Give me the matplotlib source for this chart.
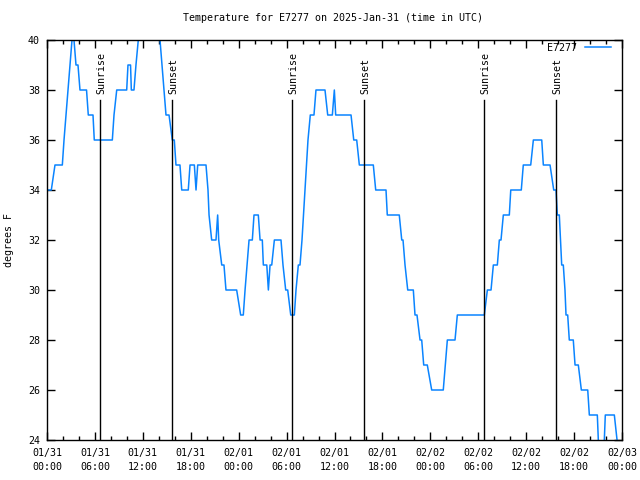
import matplotlib
matplotlib.use("Agg")
import matplotlib.pyplot as plt
from matplotlib.ticker import MultipleLocator

# ---- data (time in hours since 2025-01-31 00:00 UTC, temperature in degrees F)
hours = [0.00, 0.54, 1.00, 1.92, 2.13, 2.38, 2.63, 2.88, 3.13, 3.38, 3.63, 3.88,
         4.13, 4.95, 5.17, 5.76, 5.92, 8.18, 8.39, 8.73, 9.98, 10.14, 10.46, 10.56,
         10.89, 11.14, 11.43, 11.65, 13.90, 14.15, 14.40, 14.65, 14.90, 15.28, 15.69,
         15.94, 16.15, 16.65, 16.87, 17.69, 17.91, 18.45, 18.66, 18.87, 19.91, 20.16,
         20.29, 20.62, 21.16, 21.37, 21.50, 21.88, 22.16, 22.41, 23.75, 24.25, 24.58,
         24.80, 25.05, 25.30, 25.71, 25.92, 26.46, 26.68, 26.96, 27.09, 27.52, 27.72,
         27.93, 28.14, 28.47, 29.30, 29.55, 29.89, 30.14, 30.52, 30.97, 31.18, 31.47,
         31.68, 31.93, 32.12, 32.31, 32.49, 32.68, 32.97, 33.43, 33.68, 34.81, 35.15,
         35.73, 35.98, 36.15, 38.07, 38.41, 38.78, 39.11, 40.86, 41.16, 42.45, 42.61,
         44.11, 44.42, 44.58, 44.83, 45.17, 45.87, 46.08, 46.33, 46.71, 46.92, 47.17,
         47.62, 48.17, 49.62, 50.13, 51.09, 51.38, 54.76, 55.14, 55.60, 55.89, 56.39,
         56.64, 56.85, 57.14, 57.89, 58.07, 59.39, 59.64, 60.57, 60.90, 61.95, 62.15,
         62.99, 63.45, 63.74, 63.90, 64.15, 64.30, 64.45, 64.65, 64.86, 64.99, 65.20,
         65.40, 65.90, 66.12, 66.53, 66.91, 67.71, 67.91, 68.91, 69.16, 69.66, 69.91,
         71.04, 71.38, 71.55]
temps = [34, 34, 35, 35, 36, 37, 38, 39, 40, 40, 39, 39,
         38, 38, 37, 37, 36, 36, 37, 38, 38, 39, 39, 38,
         38, 39, 40, 41, 41, 40, 39, 38, 37, 37, 36,
         36, 35, 35, 34, 34, 35, 35, 34, 35, 35, 34,
         33, 32, 32, 33, 32, 31, 31, 30, 30, 29, 29,
         30, 31, 32, 32, 33, 33, 32, 32, 31, 31, 30,
         31, 31, 32, 32, 31, 30, 30, 29, 29, 30, 31,
         31, 32, 33, 34, 35, 36, 37, 37, 38, 38, 37,
         37, 38, 37, 37, 36, 36, 35, 35, 34, 34, 33,
         33, 32, 32, 31, 30, 30, 29, 29, 28, 28, 27,
         27, 26, 26, 28, 28, 29, 29, 30, 30, 31, 31,
         32, 32, 33, 33, 34, 34, 35, 35, 36, 36, 35,
         35, 34, 34, 33, 33, 32, 31, 31, 30, 29, 29,
         28, 28, 27, 27, 26, 26, 25, 25, 23, 23, 25,
         25, 24, 23]

sunrise_hours = [6.65, 30.65, 54.70]
sunset_hours = [15.65, 39.70, 63.74]

xtick_hours = [0, 6, 12, 18, 24, 30, 36, 42, 48, 54, 60, 66, 72]
xtick_labels = ["01/31\n00:00", "01/31\n06:00", "01/31\n12:00", "01/31\n18:00",
                "02/01\n00:00", "02/01\n06:00", "02/01\n12:00", "02/01\n18:00",
                "02/02\n00:00", "02/02\n06:00", "02/02\n12:00", "02/02\n18:00",
                "02/03\n00:00"]
yticks = [24, 26, 28, 30, 32, 34, 36, 38, 40]

station = "E7277"
title = "Temperature for E7277 on 2025-Jan-31 (time in UTC)"

# ---- figure
FONT = "DejaVu Sans Mono"
FS = 7.2
plt.rcParams["font.family"] = [FONT]

fig = plt.figure(figsize=(6.4, 4.8), dpi=100)
ax = fig.add_axes([47 / 640, 40 / 480, 575 / 640, 400 / 480])

ax.plot(hours, temps, color="#0a84ff", lw=1.1, label=station, zorder=2)

for h in sunrise_hours:
    ax.plot([h, h], [24, 37.6], color="black", lw=1.0, zorder=3)
    ax.text(h + 0.15, 37.85, "Sunrise", rotation=90, ha="center", va="bottom",
            fontsize=FS, family=FONT)
for h in sunset_hours:
    ax.plot([h, h], [24, 37.6], color="black", lw=1.0, zorder=3)
    ax.text(h + 0.15, 37.85, "Sunset", rotation=90, ha="center", va="bottom",
            fontsize=FS, family=FONT)

ax.set_xlim(0, 72)
ax.set_ylim(24, 40)
ax.set_xticks(xtick_hours)
ax.set_xticklabels(xtick_labels, fontsize=FS, family=FONT, linespacing=1.45)
ax.xaxis.set_minor_locator(MultipleLocator(2))
ax.set_yticks(yticks)
ax.set_yticklabels([str(v) for v in yticks], fontsize=FS, family=FONT)

ax.tick_params(axis="x", which="major", pad=6)
ax.tick_params(axis="both", which="major", direction="in", length=6, width=1,
               top=True, right=True)
ax.tick_params(axis="y", which="major", pad=5)
ax.tick_params(axis="both", which="minor", direction="in", length=3, width=1,
               top=True, right=True)
for s in ax.spines.values():
    s.set_linewidth(1.0)

ax.set_ylabel("degrees F", fontsize=FS, family=FONT, labelpad=10)
fig.text(333 / 640, 1 - 18 / 480, title, ha="center", va="center",
         fontsize=FS, family=FONT)

leg = ax.legend(loc="upper right", bbox_to_anchor=(0.98, 0.993), frameon=False,
                fontsize=FS, handlelength=2.6, handletextpad=0.8,
                borderaxespad=0.0, borderpad=0.0, markerfirst=False)

fig.savefig("out.png", dpi=100)
